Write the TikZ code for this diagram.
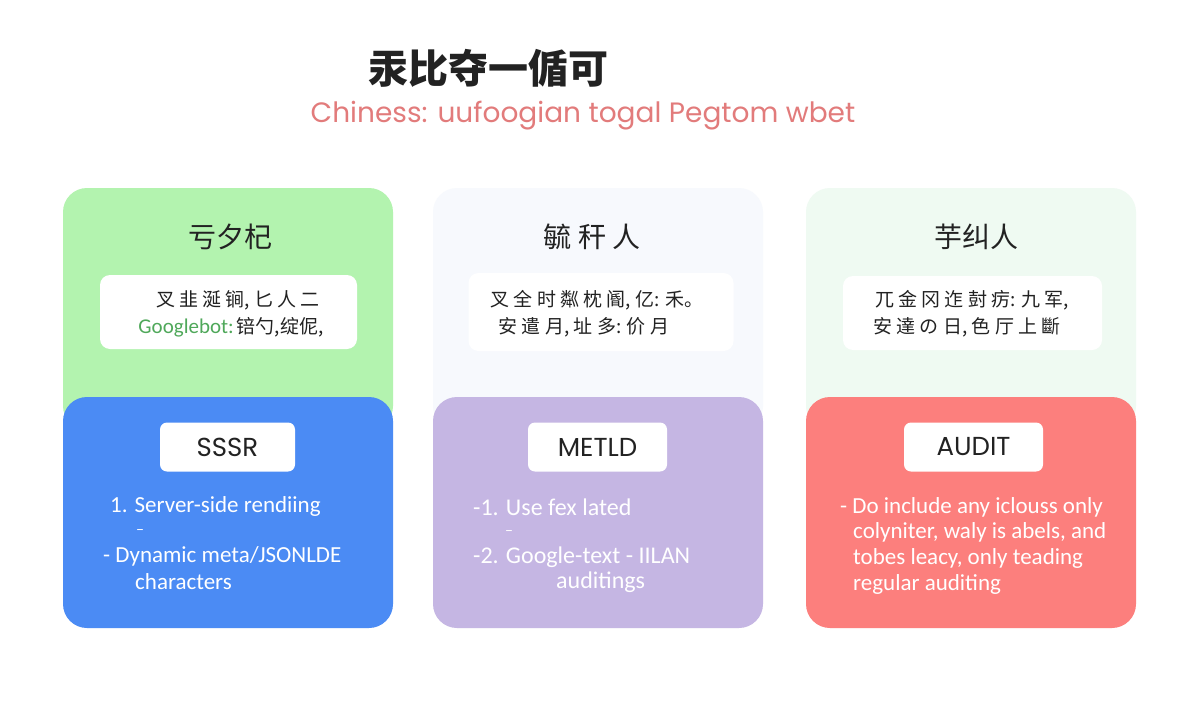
\documentclass[tikz,border=0pt]{standalone}
\usepackage{fontspec}
\setmainfont{Carlito}
\newfontfamily\cjk{Noto Sans CJK SC}
\newfontfamily\pop{Poppins}
\definecolor{gtop}{HTML}{B3F3AF}
\definecolor{bbot}{HTML}{4B8BF4}
\definecolor{ptop}{HTML}{F7F9FD}
\definecolor{pbot}{HTML}{C5B6E3}
\definecolor{mtop}{HTML}{EFFAF2}
\definecolor{rbot}{HTML}{FC7F7D}
\definecolor{subred}{HTML}{E27B7B}
\definecolor{gbot}{HTML}{4FA85A}
\definecolor{ink}{HTML}{222222}
\begin{document}
\begin{tikzpicture}[x=1pt,y=-1pt,
  card/.style={rounded corners=24pt, inner sep=0pt, minimum width=330pt, draw=none},
  inbox/.style={fill=white, rounded corners=10pt, inner sep=0pt, draw=none},
  lbl/.style={fill=white, rounded corners=7pt, inner sep=0pt, minimum height=49pt, font=\pop\fontsize{26}{30}\selectfont, text=ink},
  ctitle/.style={font=\cjk\fontsize{28}{32}\selectfont, text=ink},
  cline/.style={font=\cjk\fontsize{19}{24}\selectfont, text=ink},
  bline/.style={anchor=west, font=\fontsize{23}{26}\selectfont, text=white, inner sep=0pt},
  bline2/.style={bline, font=\fontsize{24}{26}\selectfont},
  dashmark/.style={anchor=west, font=\fontsize{16}{16}\selectfont, text=white, inner sep=0pt}]
\useasboundingbox (0,0) rectangle (1200,720);
\fill[white] (0,0) rectangle (1200,720);
% title
\node[font=\cjk\bfseries\fontsize{40}{44}\selectfont, text=ink] (title) at (488,68) {汞比夺一偱可};
\node[font=\pop\fontsize{28}{32}\selectfont, text=subred] (sub) at (583,116) {Chiness: uufoogian togal Pegtom wbet};
% card 1
\node[card, fill=gtop, minimum height=242pt] (c1t) at (228,309) {};
\node[card, fill=bbot, minimum height=231pt] (c1b) at (228,512.5) {};
\node[ctitle] (c1h) at (230,237) {亏夕杞};
\node[inbox, minimum width=257pt, minimum height=74pt] (c1i) at (228.5,312) {};
\node[cline] (c1l1) at (238,300) {叉 韭 涎 锏, 匕 人 二};
\node[cline] (c1l2) at (231,327) {{\fontspec{Carlito}\fontsize{21}{24}\selectfont\color{gbot}Googlebot:}\,锫勺,绽伲,};
\node[lbl, minimum width=135pt] (c1lab) at (227.5,447) {SSSR};
\node[bline] (c1a) at (110,506) {1. Server-side rendiing};
\node[dashmark] (c1b2) at (136,532) {–};
\node[bline] (c1c) at (103,556) {- Dynamic meta/JSONLDE};
\node[bline] (c1d) at (135,582) {characters};
% card 2
\node[card, fill=ptop, minimum height=242pt] (c2t) at (598,309) {};
\node[card, fill=pbot, minimum height=231pt] (c2b) at (598,512.5) {};
\node[ctitle] (c2h) at (592,237) {毓 秆 人};
\node[inbox, minimum width=265pt, minimum height=78pt] (c2i) at (601,312) {};
\node[cline] (c2l1) at (597,300) {叉 全 时 粼 枕 阍, 亿: 禾。};
\node[cline] (c2l2) at (584,327) {安 遣 月, 址 多: 价 月};
\node[lbl, minimum width=139pt] (c2lab) at (597.5,447) {METLD};
\node[bline2] (c2a) at (473,507) {-1. Use fex lated};
\node[dashmark] (c2b2) at (505,533) {–};
\node[bline2] (c2c) at (473,557) {-2. Google-text - IILAN};
\node[bline2] (c2d) at (556,582) {auditings};
% card 3
\node[card, fill=mtop, minimum height=242pt] (c3t) at (971,309) {};
\node[card, fill=rbot, minimum height=231pt] (c3b) at (971,512.5) {};
\node[ctitle] (c3h) at (976,237) {芋纠人};
\node[inbox, minimum width=259pt, minimum height=74pt] (c3i) at (972.5,313) {};
\node[cline] (c3l1) at (972,300) {兀 金 冈 迮 尌 疠: 九 军,};
\node[cline] (c3l2) at (967,327) {安 達 の 日, 色 厅 上 斷};
\node[lbl, minimum width=139pt] (c3lab) at (973.5,447) {AUDIT};
\node[bline] (c3a) at (840,507) {- Do include any iclouss only};
\node[bline] (c3b2) at (853,532) {colyniter, waly is abels, and};
\node[bline] (c3c) at (853,558) {tobes leacy, only teading};
\node[bline] (c3d) at (853,584) {regular auditing};
\end{tikzpicture}
\end{document}
